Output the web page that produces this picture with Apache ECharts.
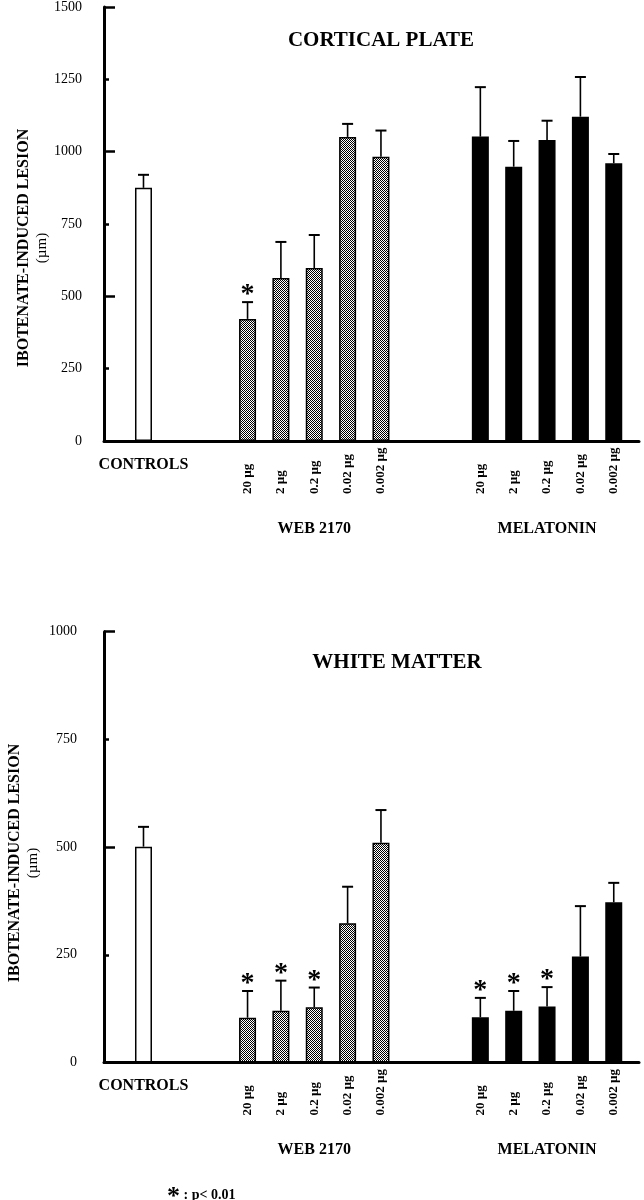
<!DOCTYPE html>
<html>
<head>
<meta charset="utf-8">
<script src="https://cdn.jsdelivr.net/npm/echarts@6/dist/echarts.min.js"></script>
<style>
html,body{margin:0;padding:0;background:#fff;}
#c{width:644px;height:1200px;}
</style>
</head>
<body>
<div id="c"></div>
<script>
// ---------- data ----------
const groups = ['CONTROLS', 'WEB 2170', 'MELATONIN'];
const doses = ['20 µg', '2 µg', '0.2 µg', '0.02 µg', '0.002 µg'];
const yTicksCortical = [0, 250, 500, 750, 1000, 1250, 1500];
const yTicksWhite = [0, 250, 500, 750, 1000];

// Cortical plate (mean, mean + SEM)
const cortControl = [875];
const cortControlErr = [920];
const cortWeb = [422, 563, 598, 1051, 982];
const cortWebErr = [480, 688, 712, 1096, 1073];
const cortMel = [1052, 948, 1040, 1121, 960];
const cortMelErr = [1223, 1037, 1107, 1258, 992];
const cortWebSig = [1, 0, 0, 0, 0];
const cortMelSig = [0, 0, 0, 0, 0];

// White matter
const whiteControl = [501];
const whiteControlErr = [547];
const whiteWeb = [104, 120, 128, 323, 510];
const whiteWebErr = [166, 190, 174, 408, 586];
const whiteMel = [105, 120, 130, 246, 372];
const whiteMelErr = [150, 166, 175, 363, 417];
const whiteWebSig = [1, 1, 1, 0, 0];
const whiteMelSig = [1, 1, 1, 0, 0];

// ---------- layout (slot positions of each group on the x scale) ----------
const groupStart = [0, 3.12, 10.1];
const X_MIN = -1.184, X_MAX = 14.857;
const SERIF = '"Liberation Serif", "Times New Roman", serif';

// checkered pattern for WEB 2170 bars
const pat = document.createElement('canvas');
pat.width = 2; pat.height = 2;
const pctx = pat.getContext('2d');
pctx.fillStyle = '#ffffff'; pctx.fillRect(0, 0, 2, 2);
pctx.fillStyle = '#000000'; pctx.fillRect(0, 0, 1, 1); pctx.fillRect(1, 1, 1, 1);

const fills = [
  '#ffffff',
  { image: pat, repeat: 'repeat' },
  '#000000'
];

function buildPanel(ctrl, ctrlErr, web, webErr, mel, melErr, webSig, melSig) {
  const bars = [], errs = [];
  const add = (g, vals, errv, sig) => {
    vals.forEach((v, i) => {
      const x = groupStart[g] + i;
      bars.push({ value: [x, v], itemStyle: { color: fills[g] } });
      errs.push([x, v, errv[i], sig ? sig[i] : 0]);
    });
  };
  add(0, ctrl, ctrlErr, null);
  add(1, web, webErr, webSig);
  add(2, mel, melErr, melSig);
  return { bars, errs };
}

const p1 = buildPanel(cortControl, cortControlErr, cortWeb, cortWebErr, cortMel, cortMelErr, cortWebSig, cortMelSig);
const p2 = buildPanel(whiteControl, whiteControlErr, whiteWeb, whiteWebErr, whiteMel, whiteMelErr, whiteWebSig, whiteMelSig);

const doseData = [];
[1, 2].forEach(g => doses.forEach((d, i) => doseData.push([groupStart[g] + i, 0, d])));
const groupData = groups.map((g, k) => [k === 0 ? groupStart[0] : groupStart[k] + 2, 0, g]);

function errRender(params, api) {
  const x = api.value(0), v = api.value(1), e = api.value(2), s = api.value(3);
  const a = api.coord([x, v]), b = api.coord([x, e]);
  const children = [
    { type: 'line', shape: { x1: a[0], y1: a[1], x2: b[0], y2: b[1] }, style: { stroke: '#000', lineWidth: 1.6 } },
    { type: 'line', shape: { x1: b[0] - 5.5, y1: b[1], x2: b[0] + 5.5, y2: b[1] }, style: { stroke: '#000', lineWidth: 2 } }
  ];
  if (s) {
    children.push({ type: 'text', x: b[0], y: b[1] + 7,
      style: { text: '*', align: 'center', verticalAlign: 'bottom', font: 'bold 28px ' + SERIF, fill: '#000' } });
  }
  return { type: 'group', children };
}

function doseRender(params, api) {
  const p = api.coord([api.value(0), 0]);
  return { type: 'text', x: p[0], y: p[1] + 53, rotation: Math.PI / 2,
    style: { text: doseData[params.dataIndex][2], align: 'left', verticalAlign: 'middle',
      font: 'bold 13px ' + SERIF, fill: '#000' } };
}

function groupRender(params, api) {
  const p = api.coord([api.value(0), 0]);
  const idx = params.dataIndex;
  return { type: 'text', x: p[0], y: p[1] + (idx === 0 ? 23.5 : 87.5),
    style: { text: groupData[idx][2], align: 'center', verticalAlign: 'middle',
      font: 'bold 16px ' + SERIF, fill: '#000' } };
}

function xAxisDef(gi) {
  return { type: 'value', gridIndex: gi, min: X_MIN, max: X_MAX,
    axisLine: { show: true, onZero: false, lineStyle: { color: '#000', width: 3 } },
    axisTick: { show: false }, axisLabel: { show: false }, splitLine: { show: false } };
}
function yAxisMain(gi, max, margin) {
  return { type: 'value', gridIndex: gi, min: 0, max: max, interval: 250, position: 'left',
    axisLine: { show: true, onZero: false, lineStyle: { color: '#000', width: 3 } },
    axisTick: { show: true, inside: true, length: 5, lineStyle: { color: '#000', width: 2.5 } },
    axisLabel: { show: true, margin: margin, color: '#000', fontFamily: SERIF, fontSize: 14,
      formatter: v => String(v) },
    splitLine: { show: false } };
}
function yAxisLong(gi, max) {
  return { type: 'value', gridIndex: gi, min: 0, max: max, interval: 500, position: 'left', offset: 0,
    axisLine: { show: false, onZero: false },
    axisTick: { show: true, inside: true, length: 11, lineStyle: { color: '#000', width: 2.5 } },
    axisLabel: { show: false }, splitLine: { show: false } };
}

const chart = echarts.init(document.getElementById('c'), null, { renderer: 'canvas' });
chart.setOption({
  backgroundColor: '#fff',
  animation: false,
  grid: [
    { left: 104, right: 5, top: 7, bottom: 759 },
    { left: 104, right: 5, top: 631.7, bottom: 137.5 }
  ],
  xAxis: [xAxisDef(0), xAxisDef(1)],
  yAxis: [yAxisMain(0, 1500, 22), yAxisLong(0, 1500), yAxisMain(1, 1000, 27), yAxisLong(1, 1000)],
  series: [
    { type: 'bar', xAxisIndex: 0, yAxisIndex: 0, barWidth: 17, data: p1.bars,
      itemStyle: { borderColor: '#000', borderWidth: 1.5 } },
    { type: 'custom', xAxisIndex: 0, yAxisIndex: 0, data: p1.errs, renderItem: errRender, z: 5 },
    { type: 'custom', xAxisIndex: 0, yAxisIndex: 0, data: doseData, renderItem: doseRender, clip: false },
    { type: 'custom', xAxisIndex: 0, yAxisIndex: 0, data: groupData, renderItem: groupRender, clip: false },
    { type: 'bar', xAxisIndex: 1, yAxisIndex: 2, barWidth: 17, data: p2.bars,
      itemStyle: { borderColor: '#000', borderWidth: 1.5 } },
    { type: 'custom', xAxisIndex: 1, yAxisIndex: 2, data: p2.errs, renderItem: errRender, z: 5 },
    { type: 'custom', xAxisIndex: 1, yAxisIndex: 2, data: doseData, renderItem: doseRender, clip: false },
    { type: 'custom', xAxisIndex: 1, yAxisIndex: 2, data: groupData, renderItem: groupRender, clip: false }
  ],
  graphic: [
    { type: 'text', x: 381, y: 41, style: { text: 'CORTICAL PLATE', align: 'center', verticalAlign: 'middle',
      font: 'bold 21px ' + SERIF, fill: '#000' } },
    { type: 'text', x: 397, y: 662.5, style: { text: 'WHITE MATTER', align: 'center', verticalAlign: 'middle',
      font: 'bold 21px ' + SERIF, fill: '#000' } },
    { type: 'text', x: 33, y: 248, rotation: Math.PI / 2,
      style: { text: '{a|IBOTENATE-INDUCED LESION}\n{b|(µm)}', align: 'center', verticalAlign: 'middle',
        rich: { a: { font: 'bold 16px ' + SERIF, fill: '#000', lineHeight: 18, align: 'center' },
                b: { font: '15px ' + SERIF, fill: '#000', lineHeight: 18, align: 'center' } } } },
    { type: 'text', x: 24, y: 863, rotation: Math.PI / 2,
      style: { text: '{a|IBOTENATE-INDUCED LESION}\n{b|(µm)}', align: 'center', verticalAlign: 'middle',
        rich: { a: { font: 'bold 16px ' + SERIF, fill: '#000', lineHeight: 19, align: 'center' },
                b: { font: '15px ' + SERIF, fill: '#000', lineHeight: 19, align: 'center' } } } },
    { type: 'text', x: 167, y: 1195,
      style: { text: '{s|*}{t| : p< 0.01}', align: 'left', verticalAlign: 'middle',
        rich: { s: { font: 'bold 26px ' + SERIF, fill: '#000', verticalAlign: 'top', padding: [4, 0, 0, 0] },
                t: { font: 'bold 14px ' + SERIF, fill: '#000' } } } }
  ]
});
</script>
</body>
</html>
